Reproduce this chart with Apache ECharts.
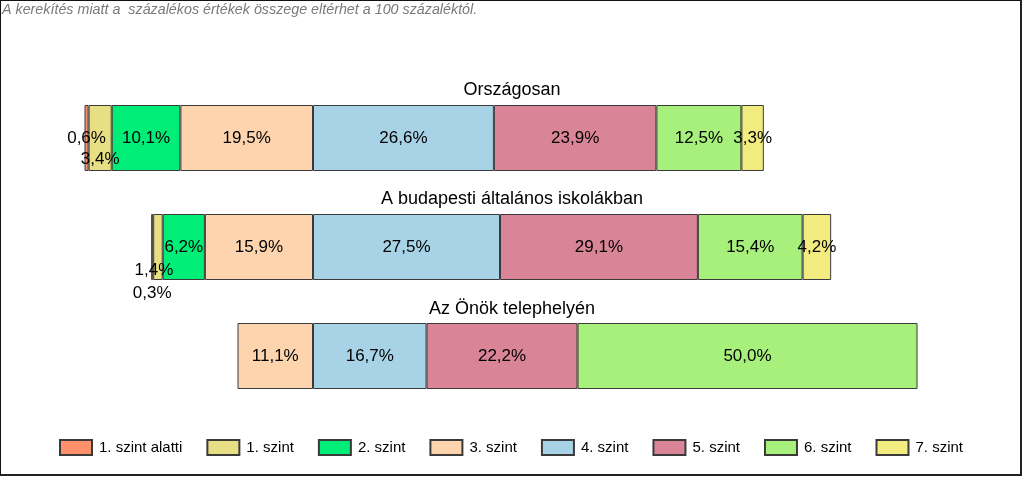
<!DOCTYPE html>
<html>
<head>
<meta charset="utf-8">
<script src="https://cdn.jsdelivr.net/npm/echarts@6/dist/echarts.min.js"></script>
<style>
html,body{margin:0;padding:0;background:#fff;}
#c{width:1024px;height:478px;position:absolute;left:0;top:0;}
#frame{position:absolute;left:0;top:0;width:1022px;height:476px;box-sizing:border-box;border:1px solid #111;border-right:2px solid #222;border-bottom:2px solid #222;pointer-events:none;}
</style>
</head>
<body>
<div id="c"></div>
<div id="frame"></div>
<script>
// ---- data ----
const categories = ['Országosan', 'A budapesti általános iskolákban', 'Az Önök telephelyén'];
const levelNames = ['1. szint alatti', '1. szint', '2. szint', '3. szint', '4. szint', '5. szint', '6. szint', '7. szint'];
const belowLevel1 = [0.6, 0.3, 0];
const level1 = [3.4, 1.4, 0];
const level2 = [10.1, 6.2, 0];
const level3 = [19.5, 15.9, 11.1];
const level4 = [26.6, 27.5, 16.7];
const level5 = [23.9, 29.1, 22.2];
const level6 = [12.5, 15.4, 50.0];
const level7 = [3.3, 4.2, 0];
const noteText = 'A kerekítés miatt a  százalékos értékek összege eltérhet a 100 százaléktól.';

// ---- styling ----
const colors = {
  '1. szint alatti': '#FF906C',
  '1. szint': '#E8DF84',
  '2. szint': '#00EE78',
  '3. szint': '#FDD4AE',
  '4. szint': '#A8D3E6',
  '5. szint': '#D98597',
  '6. szint': '#A8F07C',
  '7. szint': '#F2EC80'
};
// label shifts for crowded small segments (series name -> category index -> [dx, dy])
const labelShifts = {
  '1. szint alatti': {1: [0, 46]},
  '1. szint': {0: [0, 21], 1: [-4, 23]}
};
const FONT = '"Liberation Sans", Arial, sans-serif';

function fmt(v) { return Math.abs(v).toFixed(1).replace('.', ',') + '%'; }

function makeSeries(name, values, negative) {
  const shifts = labelShifts[name] || {};
  return {
    name: name,
    type: 'bar',
    stack: 'total',
    barWidth: 66,
    itemStyle: { color: colors[name], borderColor: '#3a3a3a', borderWidth: 1 },
    label: {
      show: true,
      position: 'inside',
      color: '#000',
      fontFamily: FONT,
      fontSize: 17,
      formatter: p => fmt(p.value)
    },
    labelLayout: function (params) {
      const s = shifts[params.dataIndex];
      return s ? { dx: s[0], dy: s[1], hideOverlap: false } : { hideOverlap: false };
    },
    data: values.map(v => (v ? (negative ? -v : v) : null))
  };
}

// negative side: nearest-to-center first
const series = [
  makeSeries('3. szint', level3, true),
  makeSeries('2. szint', level2, true),
  makeSeries('1. szint', level1, true),
  makeSeries('1. szint alatti', belowLevel1, true),
  makeSeries('4. szint', level4, false),
  makeSeries('5. szint', level5, false),
  makeSeries('6. szint', level6, false),
  makeSeries('7. szint', level7, false)
];

const titleTops = [81, 190, 300];
const titles = [{
  text: noteText, left: 2, top: 3, padding: 0,
  textStyle: { fontFamily: FONT, fontSize: 14.3, fontStyle: 'italic', fontWeight: 'normal', color: '#7a7a7a' }
}].concat(categories.map((c, i) => ({
  text: c, left: 'center', top: titleTops[i], padding: 0,
  textStyle: { fontFamily: FONT, fontSize: 18, fontWeight: 'normal', color: '#000' }
})));

const chart = echarts.init(document.getElementById('c'), null, { renderer: 'canvas' });
chart.setOption({
  animation: false,
  backgroundColor: '#fff',
  title: titles,
  grid: { left: 41, right: 31, top: 83.5, bottom: 67.5, containLabel: false },
  xAxis: { type: 'value', min: -40, max: 100, show: false },
  yAxis: { type: 'category', data: categories, inverse: true, show: false },
  legend: {
    data: levelNames,
    left: 59, top: 439, padding: 0,
    icon: 'rect',
    itemWidth: 32, itemHeight: 15, itemGap: 24,
    textStyle: { fontFamily: FONT, fontSize: 15, color: '#000', padding: [0, 0, 0, 2] },
    selectedMode: false
  },
  series: series
});
</script>
</body>
</html>
